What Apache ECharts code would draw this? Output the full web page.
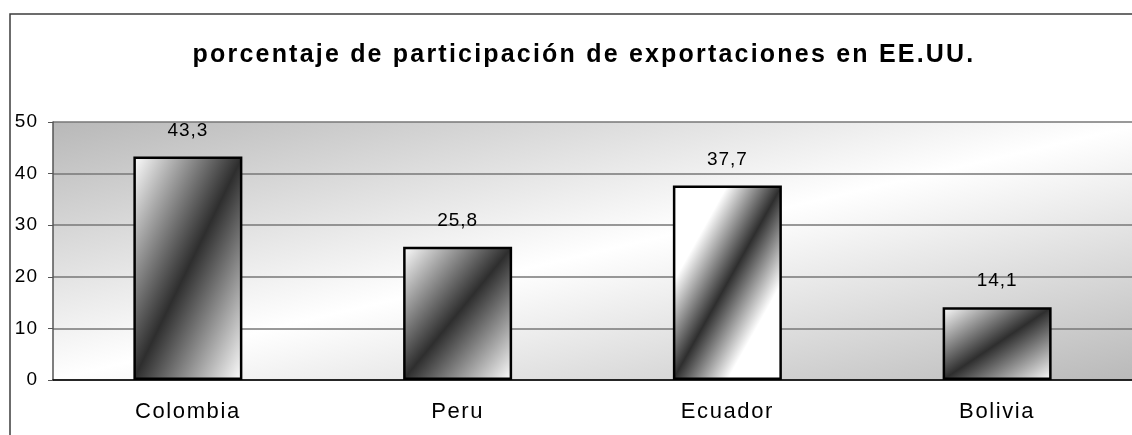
<!DOCTYPE html>
<html>
<head>
<meta charset="utf-8">
<script src="https://cdn.jsdelivr.net/npm/echarts@6/dist/echarts.min.js"></script>
<style>
  html, body { margin: 0; padding: 0; background: #fff; }
  #chart { width: 1132px; height: 435px; }
</style>
</head>
<body>
<div id="chart"></div>
<script>
// datos
const categories = ['Colombia', 'Peru', 'Ecuador', 'Bolivia']
const values = [43.3, 25.8, 37.7, 14.1]
const yTicks = [0, 10, 20, 30, 40, 50]

// ancho de la franja oscura de cada barra (solo estilo)
const barBand = [0.5, 0.5, 0.25, 0.5]

// el texto de Excel sale muy espaciado: espaciado segun tamaño de letra
const spacingBySize = { 25: '2.2px', 22: '1.6px', 19: '1px' }
const fontDesc = Object.getOwnPropertyDescriptor(CanvasRenderingContext2D.prototype, 'font')
Object.defineProperty(CanvasRenderingContext2D.prototype, 'font', {
  get() { return fontDesc.get.call(this) },
  set(v) {
    fontDesc.set.call(this, v)
    if (!('letterSpacing' in this)) return
    const m = /(\d+)px/.exec(v)
    this.letterSpacing = (m && spacingBySize[m[1]]) || '0px'
  }
})

const gridLeft = 53, gridTop = 122, gridW = 1089, gridH = 258
const barW = 109
const yMax = yTicks[yTicks.length - 1]

// degradado en diagonal como en Excel (isolineas de esquina a esquina)
const diagGradient = (w, h, stops) => {
  const k = w * w + h * h
  return new echarts.graphic.LinearGradient(0, 0, 2 * h * h / k, 2 * w * w / k, stops)
}

const chart = echarts.init(document.getElementById('chart'))

const options = {
  animation: false,
  title: {
    text: 'porcentaje de participación de exportaciones en EE.UU.',
    left: 579,
    top: 37,
    textAlign: 'center',
    textStyle: { fontFamily: 'Liberation Sans', fontSize: 25, fontWeight: 'bold', color: '#000' }
  },
  graphic: [{
    type: 'rect',
    shape: { x: 10, y: 14, width: 1150, height: 450 },
    style: { fill: null, stroke: '#3c3c3c', lineWidth: 1.5 },
    silent: true
  }],
  grid: {
    left: gridLeft, top: gridTop, width: gridW, height: gridH,
    show: true,
    borderWidth: 0,
    backgroundColor: diagGradient(gridW, gridH, [
      { offset: 0, color: '#b8b8b8' },
      { offset: 0.5, color: '#ffffff' },
      { offset: 1, color: '#b8b8b8' }
    ])
  },
  xAxis: {
    type: 'category',
    data: categories,
    axisLine: { lineStyle: { color: '#000', width: 1.5 } },
    axisTick: { length: 6, lineStyle: { color: '#000' } },
    axisLabel: { margin: 20, fontFamily: 'Liberation Sans', fontSize: 22, color: '#000' }
  },
  yAxis: {
    type: 'value',
    min: yTicks[0],
    max: yMax,
    interval: yTicks[1] - yTicks[0],
    axisLine: { show: true, lineStyle: { color: '#555', width: 1.5 } },
    axisTick: { show: true, length: 5, lineStyle: { color: '#555' } },
    axisLabel: { margin: 15, fontFamily: 'Liberation Sans', fontSize: 19, color: '#000' },
    splitLine: { lineStyle: { color: '#777', width: 1.5 } }
  },
  series: [{
    type: 'bar',
    data: values,
    barWidth: barW,
    itemStyle: {
      borderColor: '#000',
      borderWidth: 2.5,
      color: p => {
        const h = p.value / yMax * gridH
        const b = barBand[p.dataIndex]
        return diagGradient(barW, h, [
          { offset: 0, color: '#ffffff' },
          { offset: 0.5 - b, color: '#ffffff' },
          { offset: 0.5, color: '#2e2e2e' },
          { offset: 0.5 + b, color: '#ffffff' },
          { offset: 1, color: '#ffffff' }
        ])
      }
    },
    label: {
      show: true,
      position: 'top',
      distance: 16,
      fontFamily: 'Liberation Sans',
      fontSize: 19,
      color: '#000',
      formatter: p => String(p.value).replace('.', ',')
    }
  }]
}

chart.setOption(options, true)
</script>
</body>
</html>
